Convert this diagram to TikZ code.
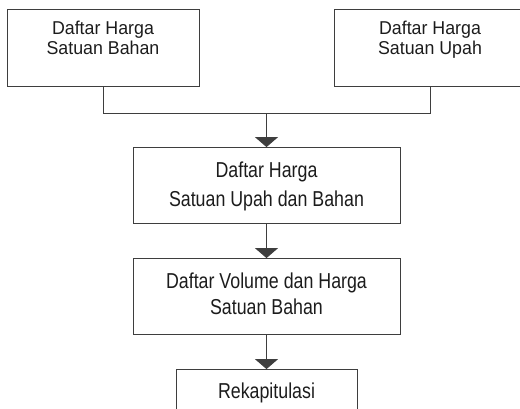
\documentclass[tikz,border=0pt]{standalone}
\usepackage{fontspec}
\setmainfont{Liberation Sans}
\newfontfamily\topfont{Liberation Sans}[FakeStretch=0.957]
\newfontfamily\tallfont{Liberation Sans}[FakeStretch=0.824]
\usetikzlibrary{positioning,arrows.meta}
\definecolor{linegray}{RGB}{62,62,62}
\definecolor{textgray}{RGB}{28,28,28}

\begin{document}
\begin{tikzpicture}%[node distance = 34pt]
  [node distance=34pt,
   box/.style={rectangle, draw=linegray, line width=1pt, inner sep=0pt, align=center, text=textgray},
   flow/.style={draw=linegray, line width=1pt},
   tip/.style={-{Triangle[width=23pt,length=10pt]}}]

\useasboundingbox (0,0) rectangle (520pt,-409pt);
\clip (0,0) rectangle (520pt,-409pt);

%%%  nodes

% top
\node [box, minimum width=192pt, minimum height=77.4pt, text depth=19.7pt, font=\topfont\fontsize{18.6}{20}\selectfont] (a) at (103pt,-48pt) {Daftar Harga\\Satuan Bahan};
\node [box, minimum width=192pt, minimum height=77.4pt, text depth=19.7pt, font=\topfont\fontsize{18.6}{20}\selectfont, right=134pt of a] (b) {Daftar Harga\\Satuan Upah};

% phantom nodes
\path (a.south) -- (b.south) coordinate[midway] (m);
\coordinate [below=26.6pt of m] (j);

% middle
\node [box, minimum width=267pt, minimum height=76pt, text depth=3.1pt, font=\tallfont\fontsize{21.6}{28.5}\selectfont, below=33.3pt of j] (c) {Daftar Harga\\Satuan Upah dan Bahan};
\node [box, minimum width=267pt, minimum height=76pt, text depth=5.5pt, font=\tallfont\fontsize{21.6}{26.5}\selectfont, below=of c] (d) {Daftar Volume dan Harga\\Satuan Bahan};

% bottom
\node [box, minimum width=181pt, minimum height=77pt, text depth=35pt, font=\tallfont\fontsize{21.6}{20}\selectfont, below=of d] (e) {Rekapitulasi};

%%% edges
\draw [flow] (a.south) |- (j) -| (b.south);
\draw [flow, tip] (j) to (c);
\draw [flow, tip] (c) to (d);
\draw [flow, tip] (d) to (e);

\end{tikzpicture}
\end{document}
